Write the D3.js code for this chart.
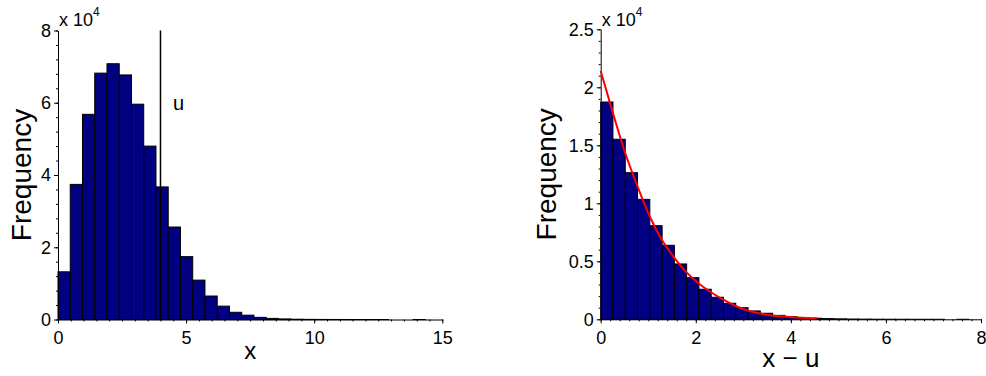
<!DOCTYPE html>
<html>
<head>
<meta charset="utf-8">
<script src="https://cdn.jsdelivr.net/npm/d3@7"></script>
<style>
  body { margin: 0; background: #fff; }
  svg text { font-family: "Liberation Sans", Arial, Helvetica, sans-serif; fill: #000; }
</style>
</head>
<body>
<div id="chart"></div>
<script>
// Histogram of x (left) and of x - u with fitted curve (right)

// left panel: bin starts, last bin end and frequencies
const leftBinStarts = [0, 0.478, 0.956, 1.434, 1.912, 2.390, 2.868, 3.346, 3.824, 4.302,
  4.780, 5.258, 5.736, 6.214, 6.692, 7.170, 7.648, 8.126, 8.604, 9.082,
  9.560, 10.038, 10.516, 10.994, 11.472, 11.950, 12.428, 12.906, 13.384, 13.862];
const leftBinEnd = 14.34;
const leftCounts = [13200, 37400, 56800, 68200, 70800, 67700, 59600, 48000, 36700, 25600,
  17400, 10900, 6500, 3700, 2000, 1200, 600, 300, 160, 80,
  40, 20, 10, 6, 3, 1, 1, 0, 0, 1];
const uValue = 4;
const leftXTicks = [0, 5, 10, 15];
const leftYTicks = [0, 20000, 40000, 60000, 80000];

// right panel: bin starts, last bin end and frequencies
const rightBinStarts = [0, 0.258, 0.517, 0.775, 1.033, 1.292, 1.550, 1.808, 2.066, 2.325,
  2.583, 2.841, 3.100, 3.358, 3.616, 3.875, 4.133, 4.391, 4.649, 4.908,
  5.166, 5.424, 5.683, 5.941, 6.199, 6.458, 6.716, 6.974, 7.233, 7.491];
const rightBinEnd = 7.749;
const rightCounts = [18730, 15520, 12640, 10340, 8070, 6380, 4770, 3590, 2590, 1900,
  1380, 1000, 720, 520, 340, 220, 140, 90, 60, 40,
  25, 16, 10, 6, 4, 2, 1, 1, 0, 1];
// fitted curve
const curveX = [0, 0.27, 0.51, 0.78, 1.04, 1.28, 1.53, 1.77, 2.09, 2.37, 2.62, 2.86, 3.14, 3.49, 3.91, 4.41, 4.55];
const curveY = [21400, 17600, 14400, 11400, 8800, 6900, 5400, 4200, 3000, 2200, 1600, 1100, 700, 400, 220, 100, 80];
const rightXTicks = [0, 2, 4, 6, 8];
const rightYTicks = [0, 5000, 10000, 15000, 20000, 25000];

const svg = d3.select("#chart").append("svg")
  .attr("width", 986)
  .attr("height", 376);

function binsOf(starts, end, counts) {
  return starts.map((s, i) => ({
    x0: s,
    x1: i < starts.length - 1 ? starts[i + 1] : end,
    v: counts[i]
  }));
}

function drawPanel(opt) {
  const g = svg.append("g");
  const x = d3.scaleLinear().domain(opt.xDomain).range(opt.xRange);
  const y = d3.scaleLinear().domain(opt.yDomain).range(opt.yRange);

  // bars
  g.selectAll("rect.bar")
    .data(binsOf(opt.starts, opt.end, opt.counts))
    .enter()
    .append("rect")
    .attr("class", "bar")
    .attr("x", d => x(d.x0))
    .attr("width", d => x(d.x1) - x(d.x0))
    .attr("y", d => y(d.v))
    .attr("height", d => y(0) - y(d.v))
    .attr("fill", "#000080")
    .attr("stroke", "#000")
    .attr("stroke-width", 1);

  // minor ticks
  const minorX = d3.range(opt.xDomain[0], opt.xDomain[1] + 1e-9, opt.xMinor);
  const minorY = d3.range(opt.yDomain[0], opt.yDomain[1] + 1e-9, opt.yMinor);
  g.append("g")
    .attr("transform", `translate(0,${opt.yRange[0]})`)
    .call(d3.axisBottom(x).tickValues(minorX).tickFormat("").tickSize(2).tickSizeOuter(0))
    .call(a => a.select(".domain").remove());
  g.append("g")
    .attr("transform", `translate(${opt.xRange[0]},0)`)
    .call(d3.axisLeft(y).tickValues(minorY).tickFormat("").tickSize(2).tickSizeOuter(0))
    .call(a => a.select(".domain").remove());

  // major axes
  const xAxis = g.append("g")
    .attr("transform", `translate(0,${opt.yRange[0]})`)
    .call(d3.axisBottom(x).tickValues(opt.xTicks).tickFormat(d3.format("d"))
      .tickSize(4).tickSizeOuter(0).tickPadding(8));
  const yAxis = g.append("g")
    .attr("transform", `translate(${opt.xRange[0]},0)`)
    .call(d3.axisLeft(y).tickValues(opt.yTicks).tickFormat(d => d3.format("")(+(d / 10000).toFixed(1)))
      .tickSize(4).tickSizeOuter(0).tickPadding(3));
  [xAxis, yAxis].forEach(a => {
    a.attr("font-family", null).attr("font-size", null);
    a.selectAll("text").attr("font-size", "18px");
  });

  // "x 10^4" multiplier
  const mult = g.append("text")
    .attr("x", opt.xRange[0] + 1)
    .attr("y", 26)
    .attr("font-size", "18px");
  mult.append("tspan").text("x 10");
  mult.append("tspan").attr("dy", -10).attr("font-size", "12px").text("4");

  // labels
  g.append("text")
    .attr("transform", `translate(${opt.yLabelX},${(opt.yRange[0] + opt.yRange[1]) / 2}) rotate(-90)`)
    .attr("text-anchor", "middle")
    .attr("font-size", "28px")
    .text("Frequency");
  g.append("text")
    .attr("x", (opt.xRange[0] + opt.xRange[1]) / 2)
    .attr("y", opt.xLabelY)
    .attr("text-anchor", "middle")
    .attr("font-size", opt.xLabelSize)
    .text(opt.xLabel);

  return { g, x, y };
}

// left panel
const left = drawPanel({
  xDomain: [0, 15], xRange: [58, 442.3],
  yDomain: [0, 80000], yRange: [319.5, 30.5],
  starts: leftBinStarts, end: leftBinEnd, counts: leftCounts,
  xTicks: leftXTicks, yTicks: leftYTicks, xMinor: 0.5, yMinor: 4000,
  yLabelX: 31, xLabel: "x", xLabelY: 359, xLabelSize: "24px"
});

left.g.append("line")
  .attr("x1", left.x(uValue)).attr("x2", left.x(uValue))
  .attr("y1", left.y(0)).attr("y2", left.y(80000))
  .attr("stroke", "#000")
  .attr("stroke-width", 1.5);
left.g.append("text")
  .attr("x", left.x(uValue) + 18)
  .attr("y", 110)
  .attr("text-anchor", "middle")
  .attr("font-size", "20px")
  .text("u");

// right panel
const right = drawPanel({
  xDomain: [0, 8], xRange: [600.7, 981],
  yDomain: [0, 25000], yRange: [319.3, 29.3],
  starts: rightBinStarts, end: rightBinEnd, counts: rightCounts,
  xTicks: rightXTicks, yTicks: rightYTicks, xMinor: 0.2, yMinor: 1000,
  yLabelX: 556, xLabel: "x \u2212 u", xLabelY: 367, xLabelSize: "26px"
});

right.g.append("path")
  .datum(curveX.map((d, i) => [d, curveY[i]]))
  .attr("fill", "none")
  .attr("stroke", "#ff0000")
  .attr("stroke-width", 2)
  .attr("d", d3.line()
    .x(d => right.x(d[0]))
    .y(d => right.y(d[1]))
    .curve(d3.curveMonotoneX));
</script>
</body>
</html>
